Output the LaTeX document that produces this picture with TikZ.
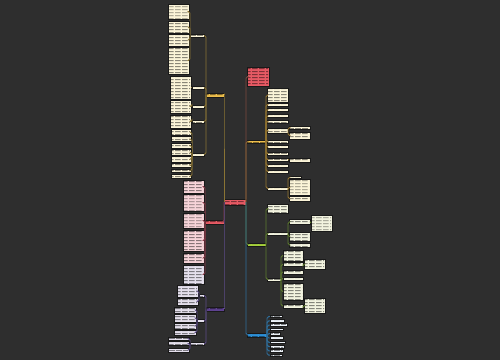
\documentclass[tikz,border=0pt]{standalone}
\usepackage{tikz}
\usetikzlibrary{patterns.meta}
\definecolor{bgc}{HTML}{2E2E2E}
\definecolor{cRed}{HTML}{E65A64}
\definecolor{cYel}{HTML}{EDBE4C}
\definecolor{cGrn}{HTML}{A5CF3C}
\definecolor{cBlu}{HTML}{2D8FD6}
\definecolor{cPur}{HTML}{5E4290}
\definecolor{cream}{HTML}{FBF4D8}
\definecolor{pink}{HTML}{F6D3D8}
\definecolor{lav}{HTML}{E4DFEC}
\definecolor{lgrn}{HTML}{F2F3DF}
\definecolor{lblu}{HTML}{EAF0F6}
\definecolor{lA}{HTML}{8A7434}
\definecolor{lB}{HTML}{8A3A48}
\definecolor{lC}{HTML}{5D4C88}
\definecolor{lD}{HTML}{7D4A3E}
\definecolor{lE}{HTML}{957530}
\definecolor{lF}{HTML}{5E7B2E}
\definecolor{lG}{HTML}{2E6F9C}
\tikzdeclarepattern{
  name=txtline,
  type=uncolored,
  bounding box={(0pt,0pt) and (4pt,1.6pt)},
  tile size={(4pt,1.6pt)},
  code={\draw[line width=0.5pt] (0pt,0.8pt) -- (3.5pt,0.8pt);}
}
% box from (x1,y1) to (x2,y2), in pixels
\newcommand{\leaf}[6]{\node[tbox=#2, minimum width={((#5)-(#3))*0.02cm}, minimum height={((#6)-(#4))*0.02cm}] (#1) at ({((#3)+(#5))/2},{((#4)+(#6))/2}) {};}

\begin{document}
\begin{tikzpicture}[x=0.02cm, y=-0.02cm]
   \tikzset{tbox/.style={draw=black!90, line width=0.45pt, fill=#1, inner sep=0pt, outer sep=0pt,
      path picture={\fill[pattern=txtline, pattern color=#1!55!black]
         ([shift={(1,0.8)}]path picture bounding box.north west) rectangle
         ([shift={(-1,-0.8)}]path picture bounding box.south east);}},
   link/.style={line width=0.55pt, rounded corners=1pt, draw=#1},
   }
 \fill[bgc] (0,0) rectangle (500,360);
 \useasboundingbox (0,0) rectangle (500,360);

 \leaf{root}{cRed}{224}{199}{246}{205}

 % left, top branch
 \leaf{ya}{cYel}{206}{93}{224}{97}
 \leaf{a1}{cream}{190}{34}{204}{37}
 \leaf{a2}{cream}{192}{86}{204}{89}
 \leaf{a3}{cream}{192}{105}{204}{108}
 \leaf{a4}{cream}{192}{120}{204}{123}
 \leaf{a5}{cream}{192}{153}{204}{156}
 \foreach \p in {a1,a2,a3,a4,a5} \draw[link=lA] (ya.west) |- (\p.east);
 \foreach \ya/\yb [count=\i] in {4/19,21/33,34/46,47/74}
   {\leaf{a1\i}{cream}{168}{\ya}{189}{\yb} \draw[link=lA] (a1.west) |- (a1\i.east);}
 \leaf{a21}{cream}{170}{76}{191}{99}
 \leaf{a31}{cream}{170}{100}{191}{113}
 \leaf{a41}{cream}{170}{115}{191}{128}
 \draw[link=lA] (a2.west) -- (a21.east);
 \draw[link=lA] (a3.west) |- (a31.east);
 \draw[link=lA] (a4.west) |- (a41.east);
 \foreach \ya/\yb [count=\i] in {129/135,136.5/141.5,143/148,149.5/155,156.5/162,163.5/167.5,169/172.5,174.5/178}
   {\leaf{a5\i}{cream}{171}{\ya}{191}{\yb} \draw[link=lA] (a5.west) |- (a5\i.east);}

 % left, middle branch
 \leaf{rb}{cRed}{205}{220}{224}{224}
 \foreach \ya/\yb/\c [count=\i] in {180/193/pink,194/211/pink,213/228/pink,230/251/pink,253/263/pink,265/284/lav}
   {\leaf{b\i}{\c}{183}{\ya}{204}{\yb} \draw[link=lB] (rb.west) |- (b\i.east);}

 % left, bottom branch
 \leaf{pc}{cPur}{206}{307.5}{224}{311}
 \leaf{c1}{lav}{199}{294}{204}{297}
 \leaf{c2}{lav}{197}{319.5}{204}{322.5}
 \leaf{c3}{lav}{190}{342.5}{204}{345.5}
 \foreach \p in {c1,c2,c3} \draw[link=lC] (pc.west) |- (\p.east);
 \foreach \ya/\yb [count=\i] in {285/297,298/305}
   {\leaf{c1\i}{lav}{177}{\ya}{198}{\yb} \draw[link=lC] (c1.west) |- (c1\i.east);}
 \foreach \ya/\yb [count=\i] in {307/313,314/322,323/329,330/335}
   {\leaf{c2\i}{lav}{174}{\ya}{196}{\yb} \draw[link=lC] (c2.west) |- (c2\i.east);}
 \foreach \ya/\yb [count=\i] in {337/340,341.5/345.5,348/352}
   {\leaf{c3\i}{lav}{168}{\ya}{189}{\yb} \draw[link=lC] (c3.west) |- (c3\i.east);}

 % right, yellow branch
 \leaf{ye}{cYel}{247}{140}{266}{143}
 \foreach \ya/\yb [count=\i] in {88/102,103/106,108/111.5,114.5/117.5,120/123,128/133,140/143,145.5/148.5,152/155,158/161,164/167,170/173,187/190}
   {\leaf{e\i}{cream}{267}{\ya}{288}{\yb} \draw[link=lE] (ye.east) |- (e\i.west);}
 \leaf{e61}{cream}{289}{126}{310}{129}
 \leaf{e62}{cream}{289}{132}{310}{139}
 \leaf{e101}{cream}{289}{158}{310}{162}
 \leaf{e131}{cream}{289}{176}{301}{178.5}
 \leaf{e132}{cream}{289}{179.5}{310}{195}
 \leaf{e133}{cream}{289}{196.5}{310}{201}
 \foreach \p in {e61,e62} \draw[link=lE] (e6.east) |- (\p.west);
 \draw[link=lE] (e10.east) -- (e101.west);
 \foreach \p in {e131,e132,e133} \draw[link=lE] (e13.east) |- (\p.west);

 % right, top red
 \leaf{rt}{cRed}{247}{67}{269}{86}

 % right, green branch
 \leaf{gf}{cGrn}{247}{243}{266}{246}
 \leaf{f1}{lgrn}{267}{204}{288}{213}
 \leaf{f2}{lgrn}{267}{232}{288}{235}
 \leaf{f3}{lgrn}{267}{278}{281}{281}
 \foreach \p in {f1,f2,f3} \draw[link=lF] (gf.east) |- (\p.west);
 \foreach \ya/\yb [count=\i] in {219.5/224,232/241.5,243/247}
   {\leaf{f2\i}{lgrn}{289}{\ya}{310}{\yb} \draw[link=lF] (f2.east) |- (f2\i.west);}
 \leaf{f211}{lgrn}{311}{215}{332}{231}
 \draw[link=lF] (f21.east) -- (f211.west);
 \foreach \ya/\yb [count=\i] in {250/261,262/266.5,270/274,277/280,283/300,304/308}
   {\leaf{f3\i}{lgrn}{283}{\ya}{303}{\yb} \draw[link=lF] (f3.east) |- (f3\i.west);}
 \leaf{f321}{lgrn}{304}{259}{325}{269}
 \leaf{f361}{lgrn}{304}{298}{325}{313}
 \draw[link=lF] (f32.east) |- (f321.west);
 \draw[link=lF] (f36.east) |- (f361.west);

 % right, blue branch
 \leaf{bg}{cBlu}{247}{333}{267}{337}
 \foreach \xb [count=\i from 0] in {282,284,287,283,280,283,285,284,283,282}
   {\leaf{g\i}{lblu}{270}{315.2+4.3*\i}{\xb}{317.8+4.3*\i} \draw[link=lG] (bg.east) |- (g\i.west);}

 % trunks from the root
 \draw[link=lB] (root.west) |- (rb.east);
 \draw[link=lC] (root.west) |- (pc.east);
 \draw[link=lA] (root.west) |- (ya.east);
 \draw[link=lE] (root.east) |- (ye.west);
 \draw[link=lD] (root.east) |- (rt.west);
 \draw[link=lF] (root.east) |- (gf.west);
 \draw[link=lG] (root.east) |- (bg.west);
\end{tikzpicture}
\end{document}
